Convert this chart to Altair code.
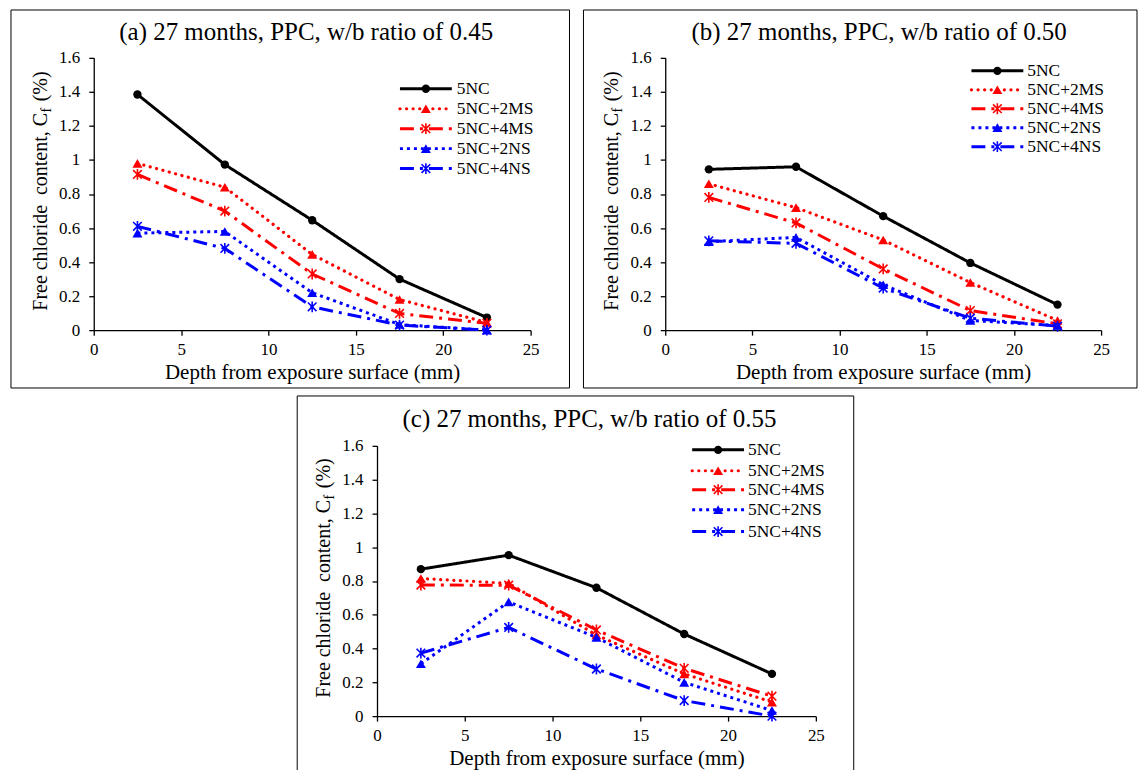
import altair as alt
import pandas as pd

# ---------------- data ----------------
depths = [2.5, 7.5, 12.5, 17.5, 22.5]
series = ["5NC", "5NC+2MS", "5NC+4MS", "5NC+2NS", "5NC+4NS"]

a_5nc = [1.385, 0.973, 0.646, 0.30, 0.074]
a_2ms = [0.98, 0.84, 0.445, 0.18, 0.045]
a_4ms = [0.915, 0.70, 0.33, 0.098, 0.04]
a_2ns = [0.57, 0.58, 0.22, 0.033, 0.0]
a_4ns = [0.61, 0.48, 0.137, 0.03, 0.0]

b_5nc = [0.945, 0.96, 0.67, 0.395, 0.15]
b_2ms = [0.86, 0.72, 0.53, 0.28, 0.057]
b_4ms = [0.78, 0.63, 0.36, 0.115, 0.037]
b_2ns = [0.52, 0.545, 0.267, 0.057, 0.027]
b_4ns = [0.525, 0.51, 0.247, 0.07, 0.023]

c_5nc = [0.87, 0.953, 0.76, 0.486, 0.25]
c_2ms = [0.815, 0.786, 0.48, 0.25, 0.083]
c_4ms = [0.776, 0.775, 0.51, 0.283, 0.118]
c_2ns = [0.31, 0.676, 0.466, 0.2, 0.033]
c_4ns = [0.373, 0.525, 0.279, 0.092, 0.0]

titles = [
    "(a) 27 months, PPC, w/b ratio of 0.45",
    "(b) 27 months, PPC, w/b ratio of 0.50",
    "(c) 27 months, PPC, w/b ratio of 0.55",
]
x_ticks = [0, 5, 10, 15, 20, 25]
y_ticks = [0, 0.2, 0.4, 0.6, 0.8, 1.0, 1.2, 1.4, 1.6]
x_title = "Depth from exposure surface (mm)"
y_title_parts = ["Free chloride\u00a0 content, C", "f", "(%)"]

# ---------------- styles ----------------
FONT = "Liberation Serif"
ASTERISK = "M-1,-1L1,1M-1,1L1,-1M0,-1.25L0,1.25"
style = {
    "5NC":     dict(color="#000000", dash=[1, 0],        cap="butt",  width=3.0, shape="circle",      filled=True,  size=70),
    "5NC+2MS": dict(color="#FF0000", dash=[0.1, 6.5],    cap="round", width=3.2, shape="triangle-up", filled=True,  size=100),
    "5NC+4MS": dict(color="#FF0000", dash=[14, 6, 3, 6], cap="butt",  width=3.0, shape=ASTERISK,      filled=False, size=75),
    "5NC+2NS": dict(color="#0000FF", dash=[3, 4],        cap="butt",  width=3.0, shape="triangle-up", filled=True,  size=100),
    "5NC+4NS": dict(color="#0000FF", dash=[14, 6, 3, 6], cap="butt",  width=3.0, shape=ASTERISK,      filled=False, size=75),
}


def make_df(vals):
    rows = []
    for s, v in zip(series, vals):
        for d, y in zip(depths, v):
            rows.append({"series": s, "depth": d, "value": y})
    return pd.DataFrame(rows)


def one(text_value):
    return pd.DataFrame({"t": [text_value]})


def panel(vals, title, W, H, frame, tdx, tdy, xb, leg):
    df = make_df(vals)
    base = alt.Chart(df)
    x = alt.X("depth:Q", scale=alt.Scale(domain=[0, 25], nice=False),
              axis=alt.Axis(values=x_ticks, title=x_title, labelPadding=6, titlePadding=4))
    y = alt.Y("value:Q", scale=alt.Scale(domain=[0, 1.6], nice=False),
              axis=alt.Axis(values=y_ticks, format="~g", title=None, labelPadding=9))
    fl, fr, ft, fb = frame
    layers = []
    layers.append(alt.Chart(one("")).mark_rect(fill="white", fillOpacity=0, stroke="black", strokeWidth=1).encode(
        x=alt.value(fl), x2=alt.value(W + fr), y=alt.value(ft), y2=alt.value(H + fb)))
    layers.append(alt.Chart(one(title)).mark_text(font=FONT, fontSize=25, align="center", baseline="alphabetic").encode(
        x=alt.value(W / 2 + tdx), y=alt.value(tdy), text="t:N"))
    # y-axis title with subscript f
    fs = 20
    fsub = 14
    w1 = 9.915 * fs
    wf = 0.333 * fsub + 1.0
    gap = 6.0
    w3 = 1.5 * fs
    total = w1 + wf + gap + w3
    y0 = H / 2 - 3 + total / 2
    layers.append(alt.Chart(one(y_title_parts[0])).mark_text(font=FONT, fontSize=fs, angle=270, align="left", baseline="alphabetic").encode(
        x=alt.value(xb), y=alt.value(y0), text="t:N"))
    layers.append(alt.Chart(one(y_title_parts[1])).mark_text(font=FONT, fontSize=fsub, angle=270, align="left", baseline="alphabetic").encode(
        x=alt.value(xb + 4), y=alt.value(y0 - w1 - 0.5), text="t:N"))
    layers.append(alt.Chart(one(y_title_parts[2])).mark_text(font=FONT, fontSize=fs, angle=270, align="left", baseline="alphabetic").encode(
        x=alt.value(xb), y=alt.value(y0 - w1 - wf - gap), text="t:N"))

    for s in series:
        st = style[s]
        sub = base.transform_filter(alt.datum.series == s)
        layers.append(sub.mark_line(color=st["color"], strokeDash=st["dash"], strokeCap=st["cap"],
                                    strokeWidth=st["width"]).encode(x=x, y=y))
        layers.append(sub.mark_point(shape=st["shape"], filled=st["filled"], size=st["size"], color=st["color"],
                                     strokeWidth=1.6, opacity=1).encode(x=x, y=y))

    lx0, lx1, tx, rows = leg
    for s, ry in zip(series, rows):
        st = style[s]
        d1 = one(s)
        layers.append(alt.Chart(d1).mark_rule(color=st["color"], strokeDash=st["dash"], strokeCap=st["cap"],
                                              strokeWidth=st["width"]).encode(
            x=alt.value(lx0), x2=alt.value(lx1), y=alt.value(ry)))
        layers.append(alt.Chart(d1).mark_point(shape=st["shape"], filled=st["filled"], size=st["size"], color=st["color"],
                                               strokeWidth=1.6, opacity=1).encode(
            x=alt.value((lx0 + lx1) / 2), y=alt.value(ry)))
        layers.append(alt.Chart(d1).mark_text(font=FONT, fontSize=17.5, align="left", baseline="middle").encode(
            x=alt.value(tx), y=alt.value(ry), text="t:N"))

    return alt.layer(*layers).properties(width=W, height=H)


pa = panel([a_5nc, a_2ms, a_4ms, a_2ns, a_4ns], titles[0], 438, 273, (-83, 39, -48, 58), -6, -18, -47,
           (307, 359, 364, [31, 51, 71, 91, 111]))
pb = panel([b_5nc, b_2ms, b_4ms, b_2ns, b_4ns], titles[1], 437, 273, (-82, 36, -48, 58), -4, -18, -47,
           (307, 359, 363, [13, 32, 51, 70, 89]))
pc = panel([c_5nc, c_2ms, c_4ms, c_2ns, c_4ns], titles[2], 440, 271, (-80, 38, -50, 55), -7, -19, -47,
           (316, 368, 372, [4, 25, 44, 64, 86]))

top = alt.hconcat(pa, pb, spacing=12)
chart = alt.vconcat(top, pc, spacing=6, center=True).properties(
    padding={"left": 10, "top": 8, "right": 0, "bottom": 0},
    background="white",
).configure_view(stroke="transparent").configure_axis(
    labelFont=FONT, labelFontSize=17, labelColor="black",
    titleFont=FONT, titleFontSize=21, titleFontWeight="normal", titleColor="black",
    domainColor="black", domainWidth=1.3, tickColor="black", tickSize=5, tickWidth=1.3,
    grid=False, labelFlush=False, labelOverlap=False,
)

chart.save("out.html", embed_options={"renderer": "svg", "actions": False})
